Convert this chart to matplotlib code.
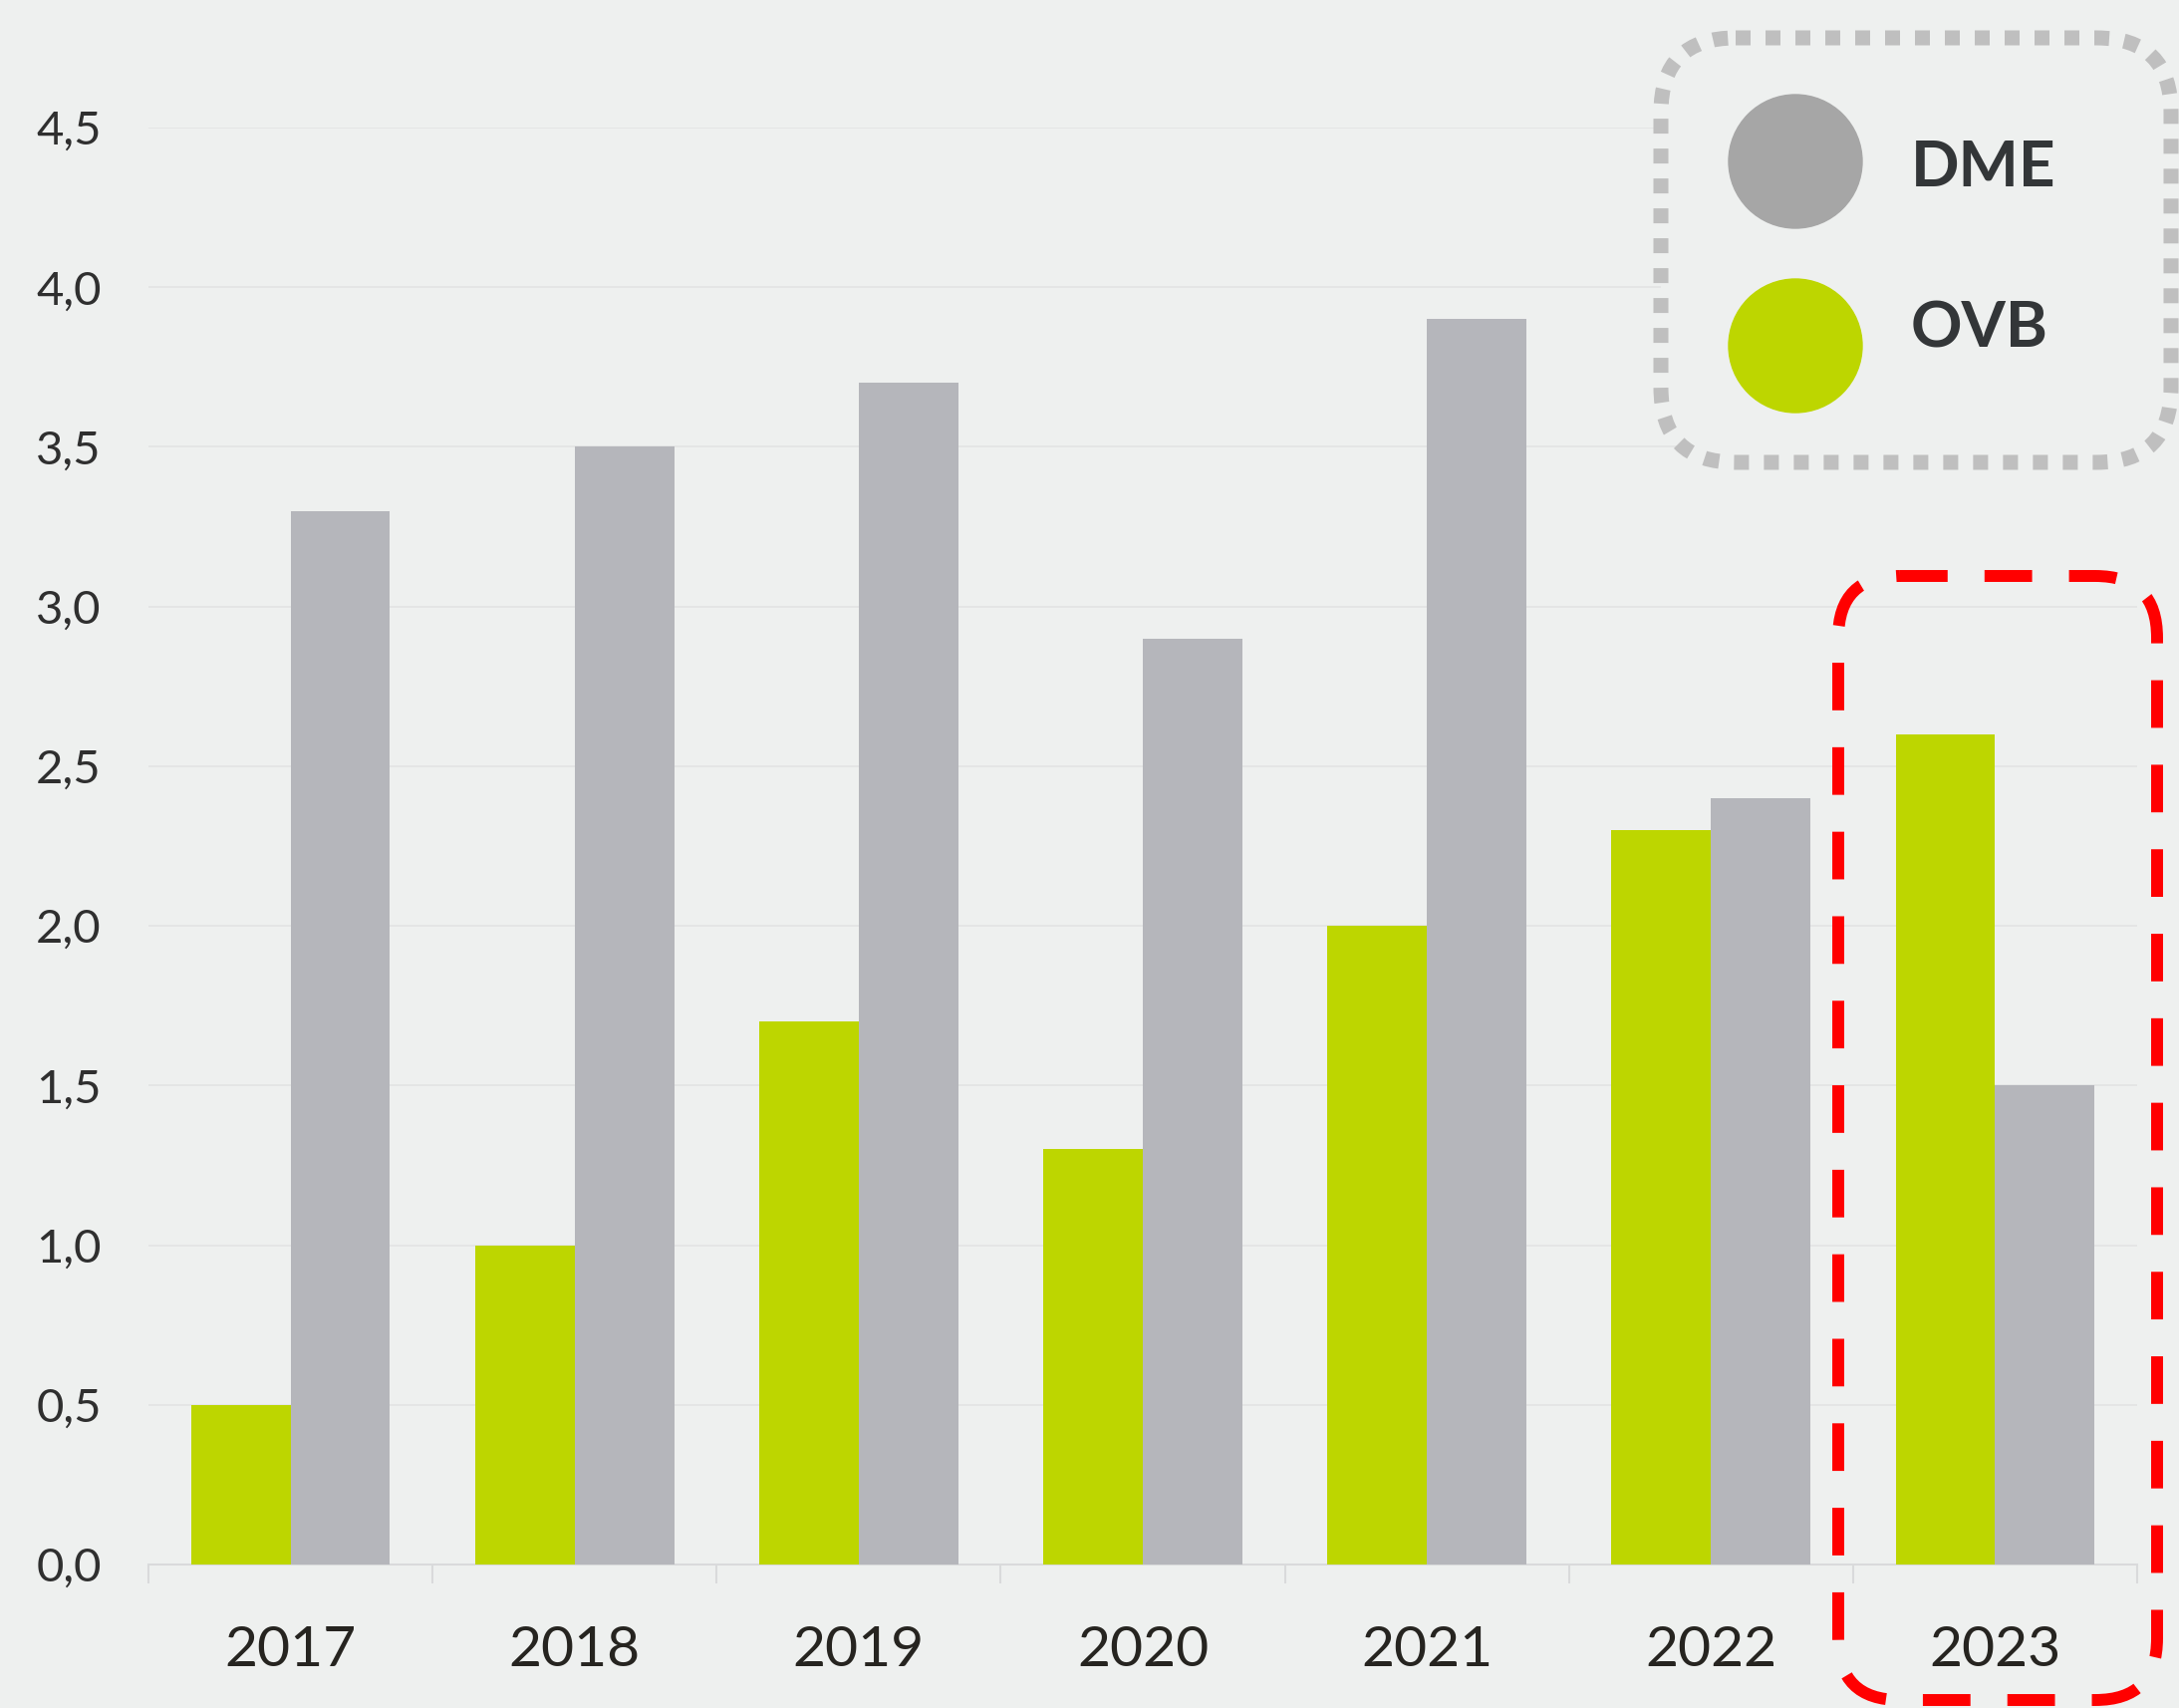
import matplotlib
matplotlib.use('Agg')
import matplotlib.pyplot as plt
import numpy as np
from matplotlib.patches import FancyBboxPatch, Circle
from matplotlib.ticker import FuncFormatter, MultipleLocator

# data
years = ['2017', '2018', '2019', '2020', '2021', '2022', '2023']
ovb = [0.5, 1.0, 1.7, 1.3, 2.0, 2.3, 2.6]
dme = [3.3, 3.5, 3.7, 2.9, 3.9, 2.4, 1.5]
series_names = ['DME', 'OVB']

bg = '#eef0ef'
green = '#bdd600'
grey_bar = '#b5b6bb'
grey_dot = '#a6a6a6'

W, H = 2187, 1714
fig = plt.figure(figsize=(W / 100, H / 100), dpi=100, facecolor=bg)
plt.rcParams['font.family'] = ['Lato', 'DejaVu Sans']

ax = fig.add_axes([149 / W, 1 - 1570 / H, (2145 - 149) / W, (1570 - 128) / H])
ax.set_facecolor(bg)

x = np.arange(len(years))
w = 0.35
ax.bar(x - w / 2, ovb, w, color=green, zorder=3)
ax.bar(x + w / 2, dme, w, color=grey_bar, zorder=3)

ax.set_xlim(-0.5, len(years) - 0.5)
ax.set_ylim(0, 4.5)
ax.yaxis.set_major_locator(MultipleLocator(0.5))
ax.yaxis.set_major_formatter(FuncFormatter(lambda v, p: f'{v:.1f}'.replace('.', ',')))
ax.grid(axis='y', color='#e2e3e3', lw=1.2, zorder=0)

for s in ['top', 'right', 'left']:
    ax.spines[s].set_visible(False)
ax.spines['bottom'].set_color('#d9dadb')
ax.spines['bottom'].set_linewidth(1.5)

ax.set_xticks(x)
ax.set_xticklabels(years)
ax.set_xticks(np.arange(-0.5, len(years), 1), minor=True)
ax.tick_params(axis='x', which='major', length=0, pad=44, labelsize=41, labelcolor='#262420')
ax.tick_params(axis='x', which='minor', length=14, width=1.5, color='#d9dadb')
ax.tick_params(axis='y', length=0, pad=34, labelsize=34, labelcolor='#2f2f2f')

# overlay in pixel coordinates for legend and highlight box
ov = fig.add_axes([0, 0, 1, 1])
ov.set_xlim(0, W)
ov.set_ylim(H, 0)
ov.axis('off')
ov.patch.set_alpha(0)

leg = FancyBboxPatch((1667, 38), 2179 - 1667, 464 - 38,
                     boxstyle='round,pad=0,rounding_size=75',
                     facecolor=bg, edgecolor='#bfbfbf', lw=10.8,
                     linestyle=(0, (1, 1)), capstyle='butt')
ov.add_patch(leg)
ov.add_patch(Circle((1802, 162), 67, color=grey_dot))
ov.add_patch(Circle((1802, 347), 67, color=green))
ov.text(1918, 168, series_names[0], fontsize=46, fontweight='bold', color='#333638', va='center')
ov.text(1918, 330, series_names[1], fontsize=46, fontweight='bold', color='#333638', va='center')

hl = FancyBboxPatch((1845, 578), 2165 - 1845, 1706 - 578,
                    boxstyle='round,pad=0,rounding_size=62',
                    facecolor='none', edgecolor='#ff0000', lw=8.6,
                    linestyle=(0, (4, 3.1)), capstyle='butt')
ov.add_patch(hl)

fig.savefig('out.png', dpi=100, facecolor=bg)
